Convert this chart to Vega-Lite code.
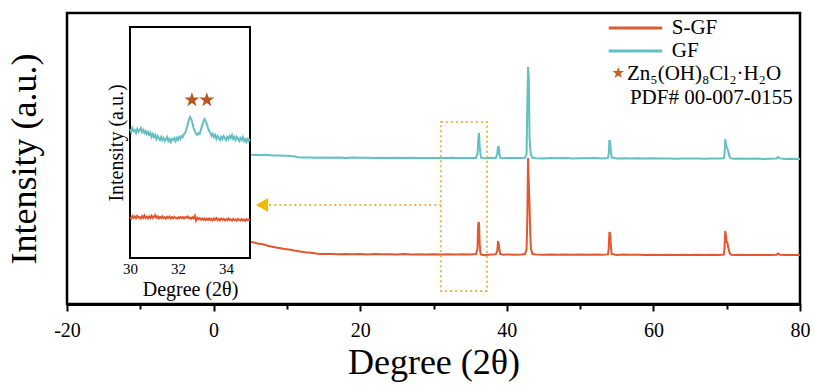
{
"$schema": "https://vega.github.io/schema/vega-lite/v6.json",
"width": 733,
"height": 291,
"autosize": {"type": "none"},
"padding": {"left": 67, "top": 13, "right": 15, "bottom": 83},
"config": {"font": "Liberation Serif", "view": {"stroke": "black", "strokeWidth": 2.5}, "axis": {"labelFont": "Liberation Serif", "titleFont": "Liberation Serif"}, "text": {"font": "Liberation Serif"}},
"datasets": {
"main": [
{"degree":5.0,"intensity":149.5,"sample":"GF"},{"degree":5.5,"intensity":149,"sample":"GF"},{"degree":6,"intensity":149.3,"sample":"GF"},{"degree":6.5,"intensity":148.8,"sample":"GF"},{"degree":7,"intensity":149.2,"sample":"GF"},{"degree":7.5,"intensity":148.9,"sample":"GF"},{"degree":8,"intensity":148.6,"sample":"GF"},{"degree":8.5,"intensity":148.4,"sample":"GF"},{"degree":9,"intensity":148.6,"sample":"GF"},{"degree":9.5,"intensity":148.2,"sample":"GF"},{"degree":10,"intensity":148.3,"sample":"GF"},{"degree":10.5,"intensity":148,"sample":"GF"},{"degree":11,"intensity":147.8,"sample":"GF"},{"degree":11.5,"intensity":146.8,"sample":"GF"},{"degree":12,"intensity":146.4,"sample":"GF"},{"degree":13,"intensity":146.6,"sample":"GF"},{"degree":14,"intensity":146.2,"sample":"GF"},{"degree":15,"intensity":146.5,"sample":"GF"},{"degree":16,"intensity":146.3,"sample":"GF"},{"degree":17,"intensity":146.4,"sample":"GF"},{"degree":18,"intensity":146.1,"sample":"GF"},{"degree":19,"intensity":146.4,"sample":"GF"},{"degree":20,"intensity":146.2,"sample":"GF"},{"degree":21,"intensity":146.3,"sample":"GF"},{"degree":22,"intensity":146,"sample":"GF"},{"degree":23,"intensity":146.3,"sample":"GF"},{"degree":24,"intensity":146.1,"sample":"GF"},{"degree":25,"intensity":146.2,"sample":"GF"},{"degree":26,"intensity":145.9,"sample":"GF"},{"degree":27,"intensity":146.2,"sample":"GF"},{"degree":28,"intensity":146,"sample":"GF"},{"degree":29,"intensity":146.1,"sample":"GF"},{"degree":30,"intensity":145.9,"sample":"GF"},{"degree":31,"intensity":146.1,"sample":"GF"},{"degree":32,"intensity":146,"sample":"GF"},{"degree":32.5,"intensity":146.3,"sample":"GF"},{"degree":33,"intensity":146,"sample":"GF"},{"degree":34,"intensity":145.9,"sample":"GF"},{"degree":35,"intensity":146,"sample":"GF"},{"degree":35.8,"intensity":146.1,"sample":"GF"},{"degree":36.0,"intensity":150,"sample":"GF"},{"degree":36.1,"intensity":163,"sample":"GF"},{"degree":36.2,"intensity":171,"sample":"GF"},{"degree":36.3,"intensity":158,"sample":"GF"},{"degree":36.4,"intensity":150,"sample":"GF"},{"degree":36.5,"intensity":146.3,"sample":"GF"},{"degree":37,"intensity":145.8,"sample":"GF"},{"degree":37.5,"intensity":146,"sample":"GF"},{"degree":38,"intensity":145.9,"sample":"GF"},{"degree":38.5,"intensity":146,"sample":"GF"},{"degree":38.7,"intensity":150,"sample":"GF"},{"degree":38.8,"intensity":157,"sample":"GF"},{"degree":38.9,"intensity":157,"sample":"GF"},{"degree":39.0,"intensity":150,"sample":"GF"},{"degree":39.1,"intensity":146.2,"sample":"GF"},{"degree":39.5,"intensity":145.8,"sample":"GF"},{"degree":40,"intensity":146,"sample":"GF"},{"degree":41,"intensity":145.9,"sample":"GF"},{"degree":42,"intensity":146,"sample":"GF"},{"degree":42.5,"intensity":146.2,"sample":"GF"},{"degree":42.7,"intensity":150,"sample":"GF"},{"degree":42.8,"intensity":201,"sample":"GF"},{"degree":42.9,"intensity":237,"sample":"GF"},{"degree":43.0,"intensity":226,"sample":"GF"},{"degree":43.1,"intensity":167,"sample":"GF"},{"degree":43.2,"intensity":155,"sample":"GF"},{"degree":43.3,"intensity":149,"sample":"GF"},{"degree":43.5,"intensity":146.2,"sample":"GF"},{"degree":44,"intensity":145.8,"sample":"GF"},{"degree":45,"intensity":145.6,"sample":"GF"},{"degree":46,"intensity":145.9,"sample":"GF"},{"degree":47,"intensity":145.7,"sample":"GF"},{"degree":48,"intensity":145.9,"sample":"GF"},{"degree":49,"intensity":145.6,"sample":"GF"},{"degree":50,"intensity":145.8,"sample":"GF"},{"degree":51,"intensity":145.7,"sample":"GF"},{"degree":52,"intensity":145.9,"sample":"GF"},{"degree":53,"intensity":145.6,"sample":"GF"},{"degree":53.8,"intensity":145.9,"sample":"GF"},{"degree":53.9,"intensity":150,"sample":"GF"},{"degree":54.0,"intensity":164,"sample":"GF"},{"degree":54.1,"intensity":162,"sample":"GF"},{"degree":54.2,"intensity":152,"sample":"GF"},{"degree":54.3,"intensity":146.5,"sample":"GF"},{"degree":55,"intensity":145.5,"sample":"GF"},{"degree":56,"intensity":145.8,"sample":"GF"},{"degree":57,"intensity":145.6,"sample":"GF"},{"degree":58,"intensity":145.7,"sample":"GF"},{"degree":59,"intensity":145.4,"sample":"GF"},{"degree":60,"intensity":145.7,"sample":"GF"},{"degree":61,"intensity":145.5,"sample":"GF"},{"degree":62,"intensity":145.6,"sample":"GF"},{"degree":63,"intensity":145.3,"sample":"GF"},{"degree":64,"intensity":145.6,"sample":"GF"},{"degree":65,"intensity":145.4,"sample":"GF"},{"degree":66,"intensity":145.5,"sample":"GF"},{"degree":67,"intensity":145.3,"sample":"GF"},{"degree":68,"intensity":145.5,"sample":"GF"},{"degree":69,"intensity":145.4,"sample":"GF"},{"degree":69.6,"intensity":145.6,"sample":"GF"},{"degree":69.7,"intensity":150,"sample":"GF"},{"degree":69.8,"intensity":165,"sample":"GF"},{"degree":69.9,"intensity":160,"sample":"GF"},{"degree":70.0,"intensity":157,"sample":"GF"},{"degree":70.1,"intensity":155,"sample":"GF"},{"degree":70.2,"intensity":153,"sample":"GF"},{"degree":70.3,"intensity":150,"sample":"GF"},{"degree":70.4,"intensity":147,"sample":"GF"},{"degree":70.6,"intensity":145.6,"sample":"GF"},{"degree":71,"intensity":145.2,"sample":"GF"},{"degree":72,"intensity":145.4,"sample":"GF"},{"degree":73,"intensity":145.2,"sample":"GF"},{"degree":74,"intensity":145.4,"sample":"GF"},{"degree":75,"intensity":145.1,"sample":"GF"},{"degree":76,"intensity":145.3,"sample":"GF"},{"degree":76.8,"intensity":145.5,"sample":"GF"},{"degree":77.0,"intensity":147,"sample":"GF"},{"degree":77.3,"intensity":145.6,"sample":"GF"},{"degree":78,"intensity":145.1,"sample":"GF"},{"degree":79,"intensity":145.3,"sample":"GF"},{"degree":80,"intensity":145.0,"sample":"GF"},
{"degree":5.0,"intensity":62,"sample":"S-GF"},{"degree":5.5,"intensity":61.5,"sample":"S-GF"},{"degree":6,"intensity":60.5,"sample":"S-GF"},{"degree":6.5,"intensity":60,"sample":"S-GF"},{"degree":7,"intensity":59.2,"sample":"S-GF"},{"degree":7.5,"intensity":58,"sample":"S-GF"},{"degree":8,"intensity":57.3,"sample":"S-GF"},{"degree":8.5,"intensity":56.5,"sample":"S-GF"},{"degree":9,"intensity":56,"sample":"S-GF"},{"degree":9.5,"intensity":55.3,"sample":"S-GF"},{"degree":10,"intensity":54.8,"sample":"S-GF"},{"degree":10.5,"intensity":54.2,"sample":"S-GF"},{"degree":11,"intensity":53.5,"sample":"S-GF"},{"degree":11.5,"intensity":53,"sample":"S-GF"},{"degree":12,"intensity":52.3,"sample":"S-GF"},{"degree":12.5,"intensity":51.8,"sample":"S-GF"},{"degree":13,"intensity":51.4,"sample":"S-GF"},{"degree":13.5,"intensity":50.9,"sample":"S-GF"},{"degree":14,"intensity":50.4,"sample":"S-GF"},{"degree":14.5,"intensity":50.1,"sample":"S-GF"},{"degree":15,"intensity":49.9,"sample":"S-GF"},{"degree":16,"intensity":50.1,"sample":"S-GF"},{"degree":17,"intensity":49.8,"sample":"S-GF"},{"degree":18,"intensity":50,"sample":"S-GF"},{"degree":19,"intensity":49.7,"sample":"S-GF"},{"degree":20,"intensity":49.9,"sample":"S-GF"},{"degree":21,"intensity":49.6,"sample":"S-GF"},{"degree":22,"intensity":49.9,"sample":"S-GF"},{"degree":23,"intensity":49.7,"sample":"S-GF"},{"degree":24,"intensity":49.8,"sample":"S-GF"},{"degree":25,"intensity":49.6,"sample":"S-GF"},{"degree":26,"intensity":49.9,"sample":"S-GF"},{"degree":27,"intensity":49.6,"sample":"S-GF"},{"degree":28,"intensity":49.8,"sample":"S-GF"},{"degree":29,"intensity":49.5,"sample":"S-GF"},{"degree":30,"intensity":49.8,"sample":"S-GF"},{"degree":31,"intensity":49.6,"sample":"S-GF"},{"degree":32,"intensity":49.8,"sample":"S-GF"},{"degree":33,"intensity":49.5,"sample":"S-GF"},{"degree":34,"intensity":49.8,"sample":"S-GF"},{"degree":35,"intensity":49.6,"sample":"S-GF"},{"degree":35.8,"intensity":49.9,"sample":"S-GF"},{"degree":36.0,"intensity":55,"sample":"S-GF"},{"degree":36.1,"intensity":80,"sample":"S-GF"},{"degree":36.2,"intensity":82,"sample":"S-GF"},{"degree":36.3,"intensity":60,"sample":"S-GF"},{"degree":36.4,"intensity":51,"sample":"S-GF"},{"degree":36.5,"intensity":49.5,"sample":"S-GF"},{"degree":37,"intensity":48.8,"sample":"S-GF"},{"degree":37.5,"intensity":49.3,"sample":"S-GF"},{"degree":38,"intensity":49.5,"sample":"S-GF"},{"degree":38.5,"intensity":49.7,"sample":"S-GF"},{"degree":38.7,"intensity":53,"sample":"S-GF"},{"degree":38.8,"intensity":63,"sample":"S-GF"},{"degree":38.9,"intensity":60,"sample":"S-GF"},{"degree":39.0,"intensity":54,"sample":"S-GF"},{"degree":39.1,"intensity":50,"sample":"S-GF"},{"degree":39.5,"intensity":49.2,"sample":"S-GF"},{"degree":40,"intensity":49.5,"sample":"S-GF"},{"degree":41,"intensity":49.3,"sample":"S-GF"},{"degree":42,"intensity":49.6,"sample":"S-GF"},{"degree":42.5,"intensity":50,"sample":"S-GF"},{"degree":42.7,"intensity":55,"sample":"S-GF"},{"degree":42.8,"intensity":86,"sample":"S-GF"},{"degree":42.9,"intensity":146,"sample":"S-GF"},{"degree":43.0,"intensity":120,"sample":"S-GF"},{"degree":43.1,"intensity":99,"sample":"S-GF"},{"degree":43.2,"intensity":70,"sample":"S-GF"},{"degree":43.3,"intensity":55,"sample":"S-GF"},{"degree":43.5,"intensity":50,"sample":"S-GF"},{"degree":44,"intensity":49.4,"sample":"S-GF"},{"degree":45,"intensity":49.2,"sample":"S-GF"},{"degree":46,"intensity":49.5,"sample":"S-GF"},{"degree":47,"intensity":49.3,"sample":"S-GF"},{"degree":48,"intensity":49.5,"sample":"S-GF"},{"degree":49,"intensity":49.2,"sample":"S-GF"},{"degree":50,"intensity":49.4,"sample":"S-GF"},{"degree":51,"intensity":49.2,"sample":"S-GF"},{"degree":52,"intensity":49.5,"sample":"S-GF"},{"degree":53,"intensity":49.2,"sample":"S-GF"},{"degree":53.8,"intensity":49.6,"sample":"S-GF"},{"degree":53.9,"intensity":55,"sample":"S-GF"},{"degree":54.0,"intensity":72,"sample":"S-GF"},{"degree":54.1,"intensity":70,"sample":"S-GF"},{"degree":54.2,"intensity":58,"sample":"S-GF"},{"degree":54.3,"intensity":50,"sample":"S-GF"},{"degree":55,"intensity":49.1,"sample":"S-GF"},{"degree":56,"intensity":49.4,"sample":"S-GF"},{"degree":57,"intensity":49.2,"sample":"S-GF"},{"degree":58,"intensity":49.3,"sample":"S-GF"},{"degree":59,"intensity":49,"sample":"S-GF"},{"degree":60,"intensity":49.3,"sample":"S-GF"},{"degree":61,"intensity":49.1,"sample":"S-GF"},{"degree":62,"intensity":49.3,"sample":"S-GF"},{"degree":63,"intensity":49,"sample":"S-GF"},{"degree":64,"intensity":49.2,"sample":"S-GF"},{"degree":65,"intensity":49.1,"sample":"S-GF"},{"degree":66,"intensity":49.3,"sample":"S-GF"},{"degree":67,"intensity":49,"sample":"S-GF"},{"degree":68,"intensity":49.2,"sample":"S-GF"},{"degree":69,"intensity":49.1,"sample":"S-GF"},{"degree":69.6,"intensity":49.4,"sample":"S-GF"},{"degree":69.7,"intensity":55,"sample":"S-GF"},{"degree":69.8,"intensity":73,"sample":"S-GF"},{"degree":69.9,"intensity":68,"sample":"S-GF"},{"degree":70.0,"intensity":62,"sample":"S-GF"},{"degree":70.1,"intensity":61,"sample":"S-GF"},{"degree":70.2,"intensity":57,"sample":"S-GF"},{"degree":70.3,"intensity":54,"sample":"S-GF"},{"degree":70.4,"intensity":51,"sample":"S-GF"},{"degree":70.6,"intensity":49.3,"sample":"S-GF"},{"degree":71,"intensity":49,"sample":"S-GF"},{"degree":72,"intensity":49.2,"sample":"S-GF"},{"degree":73,"intensity":49,"sample":"S-GF"},{"degree":74,"intensity":49.1,"sample":"S-GF"},{"degree":75,"intensity":48.9,"sample":"S-GF"},{"degree":76,"intensity":49.1,"sample":"S-GF"},{"degree":76.8,"intensity":49.2,"sample":"S-GF"},{"degree":77,"intensity":50.5,"sample":"S-GF"},{"degree":77.3,"intensity":49.2,"sample":"S-GF"},{"degree":78,"intensity":49,"sample":"S-GF"},{"degree":79,"intensity":49.1,"sample":"S-GF"},{"degree":80,"intensity":48.9,"sample":"S-GF"}
],
"inset": [
{"degree":30.00,"intensity":129,"sample":"GF"},{"degree":30.05,"intensity":126,"sample":"GF"},{"degree":30.10,"intensity":130,"sample":"GF"},{"degree":30.15,"intensity":127,"sample":"GF"},{"degree":30.20,"intensity":128,"sample":"GF"},{"degree":30.25,"intensity":125,"sample":"GF"},{"degree":30.30,"intensity":129,"sample":"GF"},{"degree":30.35,"intensity":126,"sample":"GF"},{"degree":30.40,"intensity":128,"sample":"GF"},{"degree":30.45,"intensity":130,"sample":"GF"},{"degree":30.50,"intensity":126,"sample":"GF"},{"degree":30.55,"intensity":128,"sample":"GF"},{"degree":30.60,"intensity":125,"sample":"GF"},{"degree":30.65,"intensity":127,"sample":"GF"},{"degree":30.70,"intensity":124,"sample":"GF"},{"degree":30.75,"intensity":126,"sample":"GF"},{"degree":30.80,"intensity":123,"sample":"GF"},{"degree":30.85,"intensity":125,"sample":"GF"},{"degree":30.90,"intensity":121,"sample":"GF"},{"degree":30.95,"intensity":124,"sample":"GF"},{"degree":31.00,"intensity":121,"sample":"GF"},{"degree":31.05,"intensity":123,"sample":"GF"},{"degree":31.10,"intensity":119,"sample":"GF"},{"degree":31.15,"intensity":122,"sample":"GF"},{"degree":31.20,"intensity":120,"sample":"GF"},{"degree":31.25,"intensity":118,"sample":"GF"},{"degree":31.30,"intensity":121,"sample":"GF"},{"degree":31.35,"intensity":118,"sample":"GF"},{"degree":31.40,"intensity":120,"sample":"GF"},{"degree":31.45,"intensity":117,"sample":"GF"},{"degree":31.50,"intensity":119,"sample":"GF"},{"degree":31.55,"intensity":121,"sample":"GF"},{"degree":31.60,"intensity":117,"sample":"GF"},{"degree":31.65,"intensity":119,"sample":"GF"},{"degree":31.70,"intensity":116,"sample":"GF"},{"degree":31.75,"intensity":119,"sample":"GF"},{"degree":31.80,"intensity":118,"sample":"GF"},{"degree":31.85,"intensity":120,"sample":"GF"},{"degree":31.90,"intensity":117,"sample":"GF"},{"degree":31.95,"intensity":120,"sample":"GF"},{"degree":32.00,"intensity":118,"sample":"GF"},{"degree":32.05,"intensity":121,"sample":"GF"},{"degree":32.10,"intensity":119,"sample":"GF"},{"degree":32.15,"intensity":122,"sample":"GF"},{"degree":32.20,"intensity":121,"sample":"GF"},{"degree":32.25,"intensity":124,"sample":"GF"},{"degree":32.30,"intensity":125,"sample":"GF"},{"degree":32.35,"intensity":129,"sample":"GF"},{"degree":32.40,"intensity":133,"sample":"GF"},{"degree":32.45,"intensity":138,"sample":"GF"},{"degree":32.50,"intensity":141,"sample":"GF"},{"degree":32.55,"intensity":139,"sample":"GF"},{"degree":32.60,"intensity":135,"sample":"GF"},{"degree":32.65,"intensity":130,"sample":"GF"},{"degree":32.70,"intensity":127,"sample":"GF"},{"degree":32.75,"intensity":124,"sample":"GF"},{"degree":32.80,"intensity":123,"sample":"GF"},{"degree":32.85,"intensity":125,"sample":"GF"},{"degree":32.90,"intensity":124,"sample":"GF"},{"degree":32.95,"intensity":128,"sample":"GF"},{"degree":33.00,"intensity":132,"sample":"GF"},{"degree":33.05,"intensity":136,"sample":"GF"},{"degree":33.10,"intensity":139,"sample":"GF"},{"degree":33.15,"intensity":137,"sample":"GF"},{"degree":33.20,"intensity":134,"sample":"GF"},{"degree":33.25,"intensity":130,"sample":"GF"},{"degree":33.30,"intensity":127,"sample":"GF"},{"degree":33.35,"intensity":125,"sample":"GF"},{"degree":33.40,"intensity":122,"sample":"GF"},{"degree":33.45,"intensity":124,"sample":"GF"},{"degree":33.50,"intensity":121,"sample":"GF"},{"degree":33.55,"intensity":123,"sample":"GF"},{"degree":33.60,"intensity":119,"sample":"GF"},{"degree":33.65,"intensity":122,"sample":"GF"},{"degree":33.70,"intensity":120,"sample":"GF"},{"degree":33.75,"intensity":118,"sample":"GF"},{"degree":33.80,"intensity":121,"sample":"GF"},{"degree":33.85,"intensity":119,"sample":"GF"},{"degree":33.90,"intensity":122,"sample":"GF"},{"degree":33.95,"intensity":120,"sample":"GF"},{"degree":34.00,"intensity":118,"sample":"GF"},{"degree":34.05,"intensity":121,"sample":"GF"},{"degree":34.10,"intensity":119,"sample":"GF"},{"degree":34.15,"intensity":122,"sample":"GF"},{"degree":34.20,"intensity":120,"sample":"GF"},{"degree":34.25,"intensity":123,"sample":"GF"},{"degree":34.30,"intensity":119,"sample":"GF"},{"degree":34.35,"intensity":121,"sample":"GF"},{"degree":34.40,"intensity":118,"sample":"GF"},{"degree":34.45,"intensity":121,"sample":"GF"},{"degree":34.50,"intensity":119,"sample":"GF"},{"degree":34.55,"intensity":117,"sample":"GF"},{"degree":34.60,"intensity":120,"sample":"GF"},{"degree":34.65,"intensity":118,"sample":"GF"},{"degree":34.70,"intensity":121,"sample":"GF"},{"degree":34.75,"intensity":117,"sample":"GF"},{"degree":34.80,"intensity":119,"sample":"GF"},{"degree":34.85,"intensity":116,"sample":"GF"},{"degree":34.90,"intensity":119,"sample":"GF"},{"degree":34.95,"intensity":117,"sample":"GF"},{"degree":35.00,"intensity":119,"sample":"GF"},
{"degree":30.00,"intensity":41,"sample":"S-GF"},{"degree":30.05,"intensity":39.5,"sample":"S-GF"},{"degree":30.10,"intensity":42,"sample":"S-GF"},{"degree":30.15,"intensity":40,"sample":"S-GF"},{"degree":30.20,"intensity":41.5,"sample":"S-GF"},{"degree":30.25,"intensity":39.8,"sample":"S-GF"},{"degree":30.30,"intensity":42.2,"sample":"S-GF"},{"degree":30.35,"intensity":40.3,"sample":"S-GF"},{"degree":30.40,"intensity":41,"sample":"S-GF"},{"degree":30.45,"intensity":39.6,"sample":"S-GF"},{"degree":30.50,"intensity":41.8,"sample":"S-GF"},{"degree":30.55,"intensity":40.2,"sample":"S-GF"},{"degree":30.60,"intensity":42.5,"sample":"S-GF"},{"degree":30.65,"intensity":40,"sample":"S-GF"},{"degree":30.70,"intensity":41.3,"sample":"S-GF"},{"degree":30.75,"intensity":39.7,"sample":"S-GF"},{"degree":30.80,"intensity":41.6,"sample":"S-GF"},{"degree":30.85,"intensity":40.1,"sample":"S-GF"},{"degree":30.90,"intensity":42.3,"sample":"S-GF"},{"degree":30.95,"intensity":39.9,"sample":"S-GF"},{"degree":31.00,"intensity":41.2,"sample":"S-GF"},{"degree":31.05,"intensity":43,"sample":"S-GF"},{"degree":31.10,"intensity":40.2,"sample":"S-GF"},{"degree":31.15,"intensity":41.5,"sample":"S-GF"},{"degree":31.20,"intensity":39.6,"sample":"S-GF"},{"degree":31.25,"intensity":41,"sample":"S-GF"},{"degree":31.30,"intensity":40,"sample":"S-GF"},{"degree":31.35,"intensity":41.7,"sample":"S-GF"},{"degree":31.40,"intensity":39.8,"sample":"S-GF"},{"degree":31.45,"intensity":40.9,"sample":"S-GF"},{"degree":31.50,"intensity":39.5,"sample":"S-GF"},{"degree":31.55,"intensity":41.2,"sample":"S-GF"},{"degree":31.60,"intensity":40.1,"sample":"S-GF"},{"degree":31.65,"intensity":41.4,"sample":"S-GF"},{"degree":31.70,"intensity":39.6,"sample":"S-GF"},{"degree":31.75,"intensity":40.8,"sample":"S-GF"},{"degree":31.80,"intensity":39.7,"sample":"S-GF"},{"degree":31.85,"intensity":41,"sample":"S-GF"},{"degree":31.90,"intensity":40,"sample":"S-GF"},{"degree":31.95,"intensity":39.4,"sample":"S-GF"},{"degree":32.00,"intensity":40.6,"sample":"S-GF"},{"degree":32.05,"intensity":39.8,"sample":"S-GF"},{"degree":32.10,"intensity":41.1,"sample":"S-GF"},{"degree":32.15,"intensity":39.9,"sample":"S-GF"},{"degree":32.20,"intensity":40.8,"sample":"S-GF"},{"degree":32.25,"intensity":39.5,"sample":"S-GF"},{"degree":32.30,"intensity":41,"sample":"S-GF"},{"degree":32.35,"intensity":40.2,"sample":"S-GF"},{"degree":32.40,"intensity":41.4,"sample":"S-GF"},{"degree":32.45,"intensity":39.9,"sample":"S-GF"},{"degree":32.50,"intensity":40.5,"sample":"S-GF"},{"degree":32.55,"intensity":39.3,"sample":"S-GF"},{"degree":32.60,"intensity":40.7,"sample":"S-GF"},{"degree":32.65,"intensity":39.6,"sample":"S-GF"},{"degree":32.70,"intensity":42.3,"sample":"S-GF"},{"degree":32.75,"intensity":37.5,"sample":"S-GF"},{"degree":32.80,"intensity":40.2,"sample":"S-GF"},{"degree":32.85,"intensity":38.8,"sample":"S-GF"},{"degree":32.90,"intensity":39.8,"sample":"S-GF"},{"degree":32.95,"intensity":38.5,"sample":"S-GF"},{"degree":33.00,"intensity":39.6,"sample":"S-GF"},{"degree":33.05,"intensity":38.2,"sample":"S-GF"},{"degree":33.10,"intensity":39.4,"sample":"S-GF"},{"degree":33.15,"intensity":37.9,"sample":"S-GF"},{"degree":33.20,"intensity":39.3,"sample":"S-GF"},{"degree":33.25,"intensity":38.1,"sample":"S-GF"},{"degree":33.30,"intensity":39.6,"sample":"S-GF"},{"degree":33.35,"intensity":38,"sample":"S-GF"},{"degree":33.40,"intensity":39.1,"sample":"S-GF"},{"degree":33.45,"intensity":37.6,"sample":"S-GF"},{"degree":33.50,"intensity":39.5,"sample":"S-GF"},{"degree":33.55,"intensity":38.2,"sample":"S-GF"},{"degree":33.60,"intensity":39.8,"sample":"S-GF"},{"degree":33.65,"intensity":37.9,"sample":"S-GF"},{"degree":33.70,"intensity":39,"sample":"S-GF"},{"degree":33.75,"intensity":37.7,"sample":"S-GF"},{"degree":33.80,"intensity":39.4,"sample":"S-GF"},{"degree":33.85,"intensity":38.3,"sample":"S-GF"},{"degree":33.90,"intensity":39.2,"sample":"S-GF"},{"degree":33.95,"intensity":37.6,"sample":"S-GF"},{"degree":34.00,"intensity":38.9,"sample":"S-GF"},{"degree":34.05,"intensity":37.8,"sample":"S-GF"},{"degree":34.10,"intensity":39.6,"sample":"S-GF"},{"degree":34.15,"intensity":38,"sample":"S-GF"},{"degree":34.20,"intensity":38.8,"sample":"S-GF"},{"degree":34.25,"intensity":37.4,"sample":"S-GF"},{"degree":34.30,"intensity":39.1,"sample":"S-GF"},{"degree":34.35,"intensity":37.8,"sample":"S-GF"},{"degree":34.40,"intensity":38.7,"sample":"S-GF"},{"degree":34.45,"intensity":37.3,"sample":"S-GF"},{"degree":34.50,"intensity":39,"sample":"S-GF"},{"degree":34.55,"intensity":38.1,"sample":"S-GF"},{"degree":34.60,"intensity":37.5,"sample":"S-GF"},{"degree":34.65,"intensity":38.9,"sample":"S-GF"},{"degree":34.70,"intensity":37.6,"sample":"S-GF"},{"degree":34.75,"intensity":38.6,"sample":"S-GF"},{"degree":34.80,"intensity":37.2,"sample":"S-GF"},{"degree":34.85,"intensity":38.8,"sample":"S-GF"},{"degree":34.90,"intensity":37.7,"sample":"S-GF"},{"degree":34.95,"intensity":38.5,"sample":"S-GF"},{"degree":35.00,"intensity":38,"sample":"S-GF"}
],
"stars": [{"degree":32.58,"intensity":158},{"degree":33.2,"intensity":158}],
"one": [{}]
},
"layer": [
{
"layer": [
{
"data": {"name": "main"},
"mark": {"type": "line", "strokeWidth": 2},
"encoding": {
"x": {"field": "degree", "type": "quantitative", "scale": {"domain": [-20, 80], "nice": false, "zero": false},
"axis": {"values": [-20,-10,0,10,20,30,40,50,60,70,80], "labelExpr": "datum.value % 20 === 0 ? '' + datum.value : ''", "labelFlush": false, "tickSize": {"condition": {"test": "datum.value % 20 === 0", "value": 7}, "value": 5}, "tickColor": "black", "tickWidth": 2, "domainColor": "black", "domainWidth": 3, "labelFont": "Liberation Serif", "labelFontSize": 20, "labelColor": "black", "labelPadding": 9, "grid": false, "title": "Degree (2θ)", "titleFont": "Liberation Serif", "titleFontSize": 36, "titleFontWeight": "normal", "titleColor": "black", "titlePadding": 5}},
"y": {"field": "intensity", "type": "quantitative", "scale": {"domain": [0, 291], "nice": false, "zero": false},
"axis": {"ticks": false, "labels": false, "domain": false, "grid": false, "title": "Intensity (a.u.)", "titleFont": "Liberation Serif", "titleFontSize": 36, "titleFontWeight": "normal", "titleColor": "black", "titlePadding": 24}},
"color": {"field": "sample", "type": "nominal", "scale": {"domain": ["S-GF", "GF"], "range": ["#e4572e", "#62bfc2"]}, "legend": null}
}
},
{
"data": {"name": "one"},
"mark": {"type": "rect", "fillOpacity": 0, "stroke": "#e3b94b", "strokeWidth": 2, "strokeDash": [2, 3]},
"encoding": {"x": {"datum": 31}, "x2": {"datum": 37.3}, "y": {"datum": 182}, "y2": {"datum": 13}}
},
{
"data": {"name": "one"},
"mark": {"type": "rule", "stroke": "#e3b94b", "strokeWidth": 2, "strokeDash": [2, 3]},
"encoding": {"x": {"datum": 7.6}, "x2": {"datum": 31}, "y": {"datum": 99}}
},
{
"data": {"name": "one"},
"mark": {"type": "point", "shape": "triangle-left", "filled": true, "fill": "#f5b800", "opacity": 1, "size": 200, "strokeWidth": 0},
"encoding": {"x": {"datum": 6.6}, "y": {"datum": 99}}
},
{
"data": {"name": "one"},
"mark": {"type": "rule", "stroke": "#dc5a36", "strokeWidth": 3},
"encoding": {"x": {"datum": 53.9}, "x2": {"datum": 61.2}, "y": {"datum": 276}}
},
{
"data": {"name": "one"},
"mark": {"type": "rule", "stroke": "#62bfc2", "strokeWidth": 3},
"encoding": {"x": {"datum": 53.9}, "x2": {"datum": 61.2}, "y": {"datum": 253}}
},
{
"data": {"name": "one"},
"mark": {"type": "text", "align": "left", "baseline": "middle", "font": "Liberation Serif", "fontSize": 21, "color": "black"},
"encoding": {"x": {"datum": 62.5}, "y": {"datum": 276}, "text": {"value": "S-GF"}}
},
{
"data": {"name": "one"},
"mark": {"type": "text", "align": "left", "baseline": "middle", "font": "Liberation Serif", "fontSize": 21, "color": "black"},
"encoding": {"x": {"datum": 62.5}, "y": {"datum": 253}, "text": {"value": "GF"}}
},
{
"data": {"name": "one"},
"mark": {"type": "point", "shape": "M0,-1L0.235,-0.324L0.951,-0.309L0.38,0.124L0.588,0.809L0,0.4L-0.588,0.809L-0.38,0.124L-0.951,-0.309L-0.235,-0.324Z", "filled": true, "fill": "#c8602a", "opacity": 1, "size": 150, "strokeWidth": 0},
"encoding": {"x": {"datum": 55.2}, "y": {"datum": 231}}
},
{
"data": {"name": "one"},
"mark": {"type": "text", "align": "left", "baseline": "middle", "font": "Liberation Serif", "fontSize": 21, "color": "black"},
"encoding": {"x": {"datum": 56.4}, "y": {"datum": 230}, "text": {"value": "Zn₅(OH)₈Cl₂·H₂O"}}
},
{
"data": {"name": "one"},
"mark": {"type": "text", "align": "left", "baseline": "middle", "font": "Liberation Serif", "fontSize": 21, "color": "black"},
"encoding": {"x": {"datum": 56.8}, "y": {"datum": 206}, "text": {"value": "PDF# 00-007-0155"}}
}
]
},
{
"layer": [
{
"data": {"name": "one"},
"mark": {"type": "rect", "fill": "white", "stroke": "black", "strokeWidth": 2},
"encoding": {
"x": {"datum": 30, "type": "quantitative", "scale": {"domain": [30, 35], "range": [63, 183], "nice": false, "zero": false},
"axis": {"orient": "bottom", "offset": -46, "values": [30, 32, 34], "format": "d", "ticks": false, "domain": false, "grid": false, "labelFlush": false, "labelFont": "Liberation Serif", "labelFontSize": 15, "labelColor": "black", "labelPadding": 3, "title": "Degree (2θ)", "titleFont": "Liberation Serif", "titleFontSize": 20, "titleFontWeight": "normal", "titleColor": "black", "titlePadding": 3, "zindex": 1}},
"x2": {"datum": 35},
"y": {"datum": 0, "type": "quantitative", "scale": {"domain": [0, 231], "range": [245, 14], "nice": false, "zero": false},
"axis": {"orient": "left", "offset": -63, "ticks": false, "labels": false, "domain": false, "grid": false, "title": "Intensity (a.u.)", "titleFont": "Liberation Serif", "titleFontSize": 20, "titleFontWeight": "normal", "titleColor": "black", "titlePadding": 4, "zindex": 1}},
"y2": {"datum": 231}
}
},
{
"data": {"name": "inset"},
"mark": {"type": "line", "strokeWidth": 2},
"encoding": {
"x": {"field": "degree", "type": "quantitative", "title": "Degree (2θ)"},
"y": {"field": "intensity", "type": "quantitative", "title": "Intensity (a.u.)"},
"color": {"field": "sample", "type": "nominal", "legend": null}
}
},
{
"data": {"name": "stars"},
"mark": {"type": "point", "shape": "M0,-1L0.235,-0.324L0.951,-0.309L0.38,0.124L0.588,0.809L0,0.4L-0.588,0.809L-0.38,0.124L-0.951,-0.309L-0.235,-0.324Z", "filled": true, "fill": "#b9561f", "opacity": 1, "size": 240, "strokeWidth": 0},
"encoding": {
"x": {"field": "degree", "type": "quantitative"},
"y": {"field": "intensity", "type": "quantitative"}
}
}
]
}
],
"resolve": {"scale": {"x": "independent", "y": "independent"}, "axis": {"x": "independent", "y": "independent"}}
}
